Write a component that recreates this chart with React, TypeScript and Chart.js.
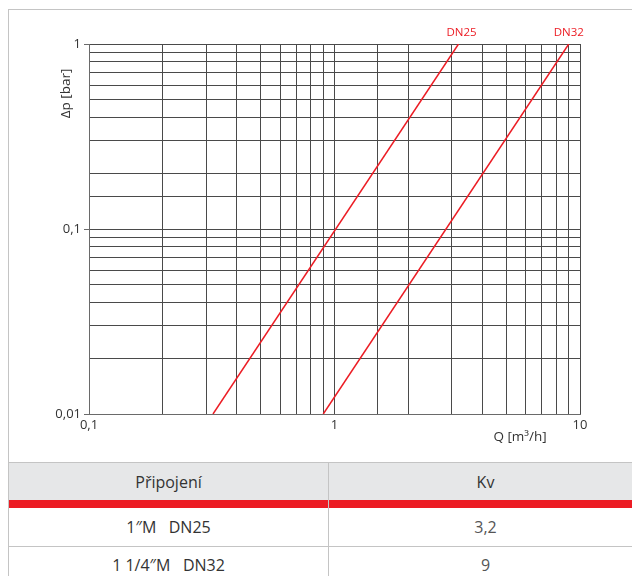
import React, { useEffect, useRef } from 'react';
import { Chart, registerables } from 'chart.js';
Chart.register(...registerables);

const seriesNames = ['DN25', 'DN32'];
const dn25Q = [0.32, 3.2];
const dn25Dp = [0.01, 1];
const dn32Q = [0.9, 9];
const dn32Dp = [0.01, 1];
const xTickLabels = ['0,1', '1', '10'];
const yTickLabels = ['0,01', '0,1', '1'];
const xTitle = 'Q [m³/h]';
const yTitle = 'Δp [bar]';
const tableHeader = ['Připojení', 'Kv'];
const connections = ['1″M   DN25', '1 1/4″M   DN32'];
const kvValues = ['3,2', '9'];

const RED = '#ec1c24';
const FONT = "'Open Sans', 'Noto Sans', sans-serif";

function decadeLabel(v: number, minExp: number, labels: string[]) {
  const e = Math.log10(v);
  const r = Math.round(e);
  if (Math.abs(e - r) < 1e-6) {
    const l = labels[r - minExp];
    return l === undefined ? '' : l;
  }
  return '';
}

const overlayPlugin = {
  id: 'overlay',
  afterDraw(chart: any) {
    const { ctx, chartArea } = chart;
    ctx.save();
    ctx.font = `13.5px ${FONT}`;
    ctx.fillStyle = '#333';
    ctx.textAlign = 'center';
    ctx.textBaseline = 'middle';
    const xs = chart.scales.x;
    // x title
    ctx.fillText(xTitle, xs.getPixelForValue(5.7), chartArea.bottom + 23);
    // y title
    ctx.save();
    ctx.translate(chartArea.left - 23, chart.scales.y.getPixelForValue(0.54));
    ctx.rotate(-Math.PI / 2);
    ctx.fillText(yTitle, 0, 0);
    ctx.restore();
    // series labels
    ctx.fillStyle = RED;
    ctx.font = `11.5px ${FONT}`;
    chart.data.datasets.forEach((ds: any, i: number) => {
      const meta = chart.getDatasetMeta(i);
      const last = meta.data[meta.data.length - 1];
      ctx.fillText(seriesNames[i], last.x + (i === 0 ? 3 : 0), last.y - 11);
    });
    ctx.restore();
  },
};

function ChartView() {
  const ref = useRef<HTMLCanvasElement>(null);
  useEffect(() => {
    if (!ref.current) return;
    const chart = new Chart(ref.current, {
      type: 'line',
      data: {
        datasets: [
          {
            label: seriesNames[0],
            data: dn25Q.map((q, i) => ({ x: q, y: dn25Dp[i] })),
            borderColor: RED,
            borderWidth: 1.5,
            pointRadius: 0,
            tension: 0,
          },
          {
            label: seriesNames[1],
            data: dn32Q.map((q, i) => ({ x: q, y: dn32Dp[i] })),
            borderColor: RED,
            borderWidth: 1.5,
            pointRadius: 0,
            tension: 0,
          },
        ],
      },
      options: {
        animation: false,
        responsive: false,
        maintainAspectRatio: false,
        layout: { padding: { top: 44, right: 52, left: 0, bottom: 0 } },
        plugins: { legend: { display: false }, tooltip: { enabled: false } },
        scales: {
          x: {
            type: 'logarithmic',
            min: 0.1,
            max: 10,
            grid: {
              color: '#4a4a4a',
              lineWidth: 1,
              drawTicks: false,
            },
            border: { color: '#6a6a6a' },
            ticks: {
              autoSkip: false,
              maxRotation: 0,
              padding: 3,
              color: '#333',
              font: { family: FONT, size: 13 },
              callback: (v: any) => decadeLabel(Number(v), -1, xTickLabels),
            },
            afterFit: (s: any) => {
              s.height = 48;
            },
          },
          y: {
            type: 'logarithmic',
            min: 0.01,
            max: 1,
            grid: {
              color: '#4a4a4a',
              lineWidth: 1,
              tickLength: 5,
              tickColor: (c: any) =>
                c.tick && decadeLabel(c.tick.value, -2, yTickLabels) !== '' ? '#6a6a6a' : 'rgba(0,0,0,0)',
            },
            border: { color: '#6a6a6a' },
            ticks: {
              autoSkip: false,
              padding: 3,
              color: '#333',
              font: { family: FONT, size: 13 },
              callback: (v: any) => decadeLabel(Number(v), -2, yTickLabels),
            },
            afterFit: (s: any) => {
              s.width = 89;
            },
          },
        },
      },
      plugins: [overlayPlugin],
    } as any);
    return () => chart.destroy();
  }, []);
  return <canvas ref={ref} width={632} height={462} style={{ position: 'absolute', left: 0, top: 0, width: 632, height: 462 }} />;
}

export default function App() {
  const border = '#c4c4c4';
  const cellText: React.CSSProperties = {
    position: 'absolute',
    display: 'flex',
    alignItems: 'center',
    justifyContent: 'center',
    fontFamily: FONT,
    fontSize: 16,
    whiteSpace: 'pre',
  };
  const colL = { left: 9, width: 319 };
  const colR = { left: 329, width: 313 };
  return (
    <div style={{ position: 'fixed', left: 0, top: 0, width: 632, height: 576, overflow: 'hidden', background: '#fff' }}>
      <div style={{ position: 'absolute', left: 8, top: 9, width: 700, height: 700, borderLeft: `1px solid ${border}`, borderTop: `1px solid ${border}` }} />
      <ChartView />
      <div style={{ position: 'absolute', left: 9, top: 462, width: 700, height: 38, background: '#e6e7e8', borderTop: `1px solid ${border}`, boxSizing: 'border-box' }} />
      <div style={{ position: 'absolute', left: 9, top: 500, width: 700, height: 8, background: RED }} />
      <div style={{ position: 'absolute', left: 9, top: 546, width: 700, height: 1, background: border }} />
      <div style={{ position: 'absolute', left: 328, top: 462, width: 1, height: 200, background: border }} />
      <div style={{ ...cellText, ...colL, top: 463, height: 37, color: '#333' }}>{tableHeader[0]}</div>
      <div style={{ ...cellText, ...colR, top: 463, height: 37, color: '#333' }}>{tableHeader[1]}</div>
      {connections.map((c, i) => (
        <div key={'c' + i} style={{ ...cellText, ...colL, top: 508 + i * 38, height: 38, color: '#333' }}>{c}</div>
      ))}
      {kvValues.map((k, i) => (
        <div key={'k' + i} style={{ ...cellText, ...colR, top: 508 + i * 38, height: 38, color: '#555' }}>{k}</div>
      ))}
    </div>
  );
}
